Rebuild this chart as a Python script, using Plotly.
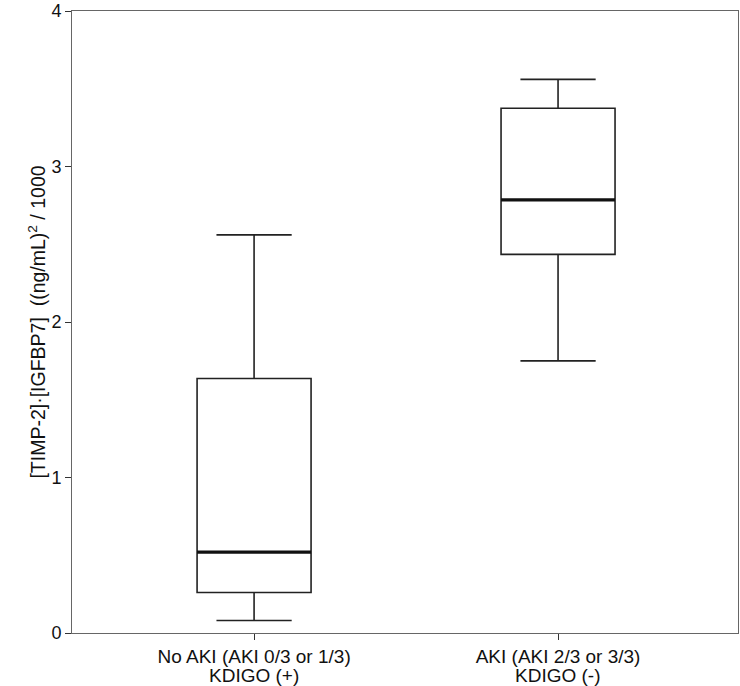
import plotly.graph_objects as go

categories = ["No AKI (AKI 0/3 or 1/3)", "AKI (AKI 2/3 or 3/3)"]
second_line = ["KDIGO (+)", "KDIGO (-)"]
lower_whisker = [0.08, 1.75]
q1_values = [0.26, 2.435]
median_values = [0.52, 2.785]
q3_values = [1.637, 3.375]
upper_whisker = [2.56, 3.56]
y_ticks = [0, 1, 2, 3, 4]

box_width = 0.375
line_color = "#222222"
font_family = "Liberation Sans, Arial, sans-serif"

fig = go.Figure()
fig.add_trace(go.Box(
    x=categories,
    q1=q1_values,
    median=median_values,
    q3=q3_values,
    lowerfence=lower_whisker,
    upperfence=upper_whisker,
    width=box_width,
    whiskerwidth=0.66,
    fillcolor="white",
    line=dict(color=line_color, width=1.6),
    boxpoints=False,
    showlegend=False,
    hoverinfo="skip",
))

for i, m in enumerate(median_values):
    fig.add_shape(type="line", xref="x", yref="y",
                  x0=i - box_width / 2, x1=i + box_width / 2, y0=m, y1=m,
                  line=dict(color="#111111", width=3.2))

for cat, txt in zip(categories, second_line):
    fig.add_annotation(x=cat, xref="x", y=0, yref="paper", yanchor="top",
                       yshift=-30, text=txt, showarrow=False,
                       font=dict(size=19, color="#111111", family=font_family))

fig.update_layout(
    width=740, height=686,
    margin=dict(l=72, r=2, t=11, b=53, autoexpand=False),
    plot_bgcolor="white", paper_bgcolor="white",
    font=dict(family=font_family, size=19, color="#111111"),
    xaxis=dict(
        type="category", range=[-0.599, 1.592], automargin=False,
        showline=True, linecolor="#666666", linewidth=1, mirror=True,
        ticks="outside", ticklen=6, tickcolor="#333333", tickwidth=1.3,
        showgrid=False, zeroline=False,
        tickfont=dict(size=19),
    ),
    yaxis=dict(
        range=[0, 4], tickvals=y_ticks, automargin=False,
        ticklabeloverflow="allow",
        showline=True, linecolor="#666666", linewidth=1, mirror=True,
        ticks="outside", ticklen=6, tickcolor="#333333", tickwidth=1.3,
        showgrid=False, zeroline=False,
        tickfont=dict(size=18),
        title=dict(text="[TIMP-2]·[IGFBP7]  ((ng/mL)<sup>2</sup> / 1000", font=dict(size=19.5), standoff=0),
    ),
)

fig.write_html("out.html", config={"displayModeBar": False},
               post_script="document.body.style.margin='0px';")
